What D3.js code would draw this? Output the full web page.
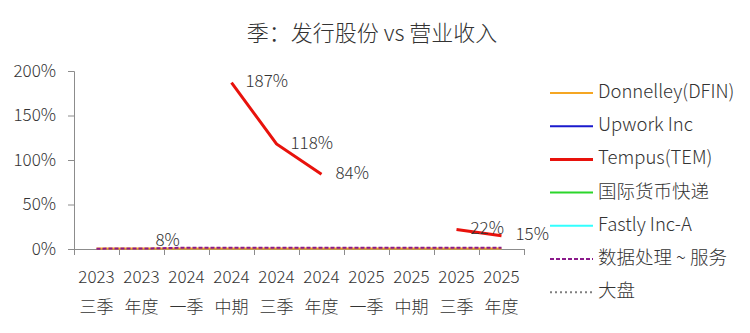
<!DOCTYPE html>
<html>
<head>
<meta charset="utf-8">
<script src="https://cdn.jsdelivr.net/npm/d3@7"></script>
<style>
  body { margin: 0; background: #fff; }
  svg text { font-family: "Noto Sans CJK SC", "Noto Sans", sans-serif; font-weight: 300; fill: #333; }
</style>
</head>
<body>
<div id="chart"></div>
<script>
// category labels (two lines)
var years = ["2023", "2023", "2024", "2024", "2024", "2024", "2025", "2025", "2025", "2025"];
var periods = ["三季", "年度", "一季", "中期", "三季", "年度", "一季", "中期", "三季", "年度"];

// series values (ratio, null = no data)
var donnelley = [0.005, 0.005, 0.006, 0.006, 0.006, 0.006, 0.006, 0.006, 0.006, 0.006];
var upwork = [null, 0.08, null, null, null, null, null, null, null, null];
var tempus = [null, null, null, 1.87, 1.18, 0.84, null, null, 0.22, 0.15];
var intlCourier = [null, null, null, null, null, null, null, null, null, null];
var fastly = [null, null, null, null, null, null, null, null, null, null];
var dataService = [0.004, 0.005, 0.015, 0.015, 0.015, 0.015, 0.015, 0.015, 0.015, 0.015];
var market = [null, null, null, null, null, null, null, null, null, null];

var yTicks = [0, 0.5, 1, 1.5, 2];

var series = [
  { name: "Donnelley(DFIN)", values: donnelley, color: "#f5a623", width: 2, dash: null, labels: false },
  { name: "Upwork Inc", values: upwork, color: "#1a1acd", width: 2, dash: null, labels: true },
  { name: "Tempus(TEM)", values: tempus, color: "#e8120c", width: 3, dash: null, labels: true },
  { name: "国际货币快递", values: intlCourier, color: "#2bd62b", width: 2, dash: null, labels: false },
  { name: "Fastly Inc-A", values: fastly, color: "#33ffff", width: 2, dash: null, labels: false },
  { name: "数据处理 ~ 服务", values: dataService, color: "#8b1a8b", width: 2, dash: "4,2", labels: false },
  { name: "大盘", values: market, color: "#808080", width: 2, dash: "2,3", labels: false }
];

var W = 750, H = 333;
var svg = d3.select("#chart").append("svg").attr("width", W).attr("height", H);

var x = d3.scaleBand().domain(d3.range(years.length)).range([74, 524]);
var xEdge = d3.scaleLinear().domain([0, years.length]).range([74, 524]);
var y = d3.scaleLinear().domain([0, 2]).range([249, 71]);

// title
svg.append("text")
  .attr("x", 372).attr("y", 35)
  .attr("text-anchor", "middle").attr("dominant-baseline", "middle")
  .style("font-size", "22px")
  .text("季：发行股份 vs 营业收入");

// y axis
var yAxis = svg.append("g")
  .attr("transform", "translate(74,0)")
  .call(d3.axisLeft(y).tickValues(yTicks).tickFormat(d3.format(".0%")).tickSize(6).tickPadding(12));
yAxis.selectAll("path, line").attr("stroke", "#8c8c8c");
yAxis.selectAll("text").style("font-size", "17px").attr("fill", "#333");

// x axis (ticks between categories)
var xAxis = svg.append("g")
  .attr("transform", "translate(0,249)")
  .call(d3.axisBottom(xEdge).ticks(years.length).tickFormat("").tickSize(6).tickSizeOuter(6));
xAxis.selectAll("path, line").attr("stroke", "#8c8c8c");

var xl = svg.append("g");
xl.selectAll("text.yr").data(years).enter().append("text")
  .attr("class", "yr")
  .attr("x", function (d, i) { return x(i) + x.bandwidth() / 2; })
  .attr("y", 278)
  .attr("text-anchor", "middle").attr("dominant-baseline", "middle")
  .style("font-size", "17px")
  .text(function (d) { return d; });
xl.selectAll("text.pd").data(periods).enter().append("text")
  .attr("class", "pd")
  .attr("x", function (d, i) { return x(i) + x.bandwidth() / 2; })
  .attr("y", 308)
  .attr("text-anchor", "middle").attr("dominant-baseline", "middle")
  .style("font-size", "17px")
  .text(function (d) { return d; });

// lines
var line = d3.line()
  .defined(function (d) { return d != null; })
  .x(function (d, i) { return x(i) + x.bandwidth() / 2; })
  .y(function (d) { return y(d); });

series.forEach(function (s) {
  svg.append("path")
    .attr("d", line(s.values))
    .attr("fill", "none")
    .attr("stroke", s.color)
    .attr("stroke-width", s.width)
    .attr("stroke-dasharray", s.dash);
});

// value labels
series.filter(function (s) { return s.labels; }).forEach(function (s) {
  svg.append("g").selectAll("text")
    .data(s.values.map(function (v, i) { return { v: v, i: i }; }).filter(function (d) { return d.v != null; }))
    .enter().append("text")
    .attr("x", function (d) { return x(d.i) + x.bandwidth() / 2 + 14; })
    .attr("y", function (d) { return y(d.v); })
    .attr("dominant-baseline", "middle")
    .style("font-size", "17px")
    .attr("fill", "#404040")
    .text(function (d) { return Math.round(d.v * 100) + "%"; });
});

// legend
var lg = svg.append("g").attr("transform", "translate(550,93)");
var row = lg.selectAll("g").data(series).enter().append("g")
  .attr("transform", function (d, i) { return "translate(0," + (i * 33.2) + ")"; });
row.append("line")
  .attr("x1", 0).attr("x2", 43).attr("y1", 0).attr("y2", 0)
  .attr("stroke", function (d) { return d.color; })
  .attr("stroke-width", function (d) { return d.width; })
  .attr("stroke-dasharray", function (d) { return d.dash; });
row.append("text")
  .attr("x", 48).attr("y", 0)
  .attr("dominant-baseline", "middle")
  .style("font-size", "18.5px")
  .text(function (d) { return d.name; });
</script>
</body>
</html>
